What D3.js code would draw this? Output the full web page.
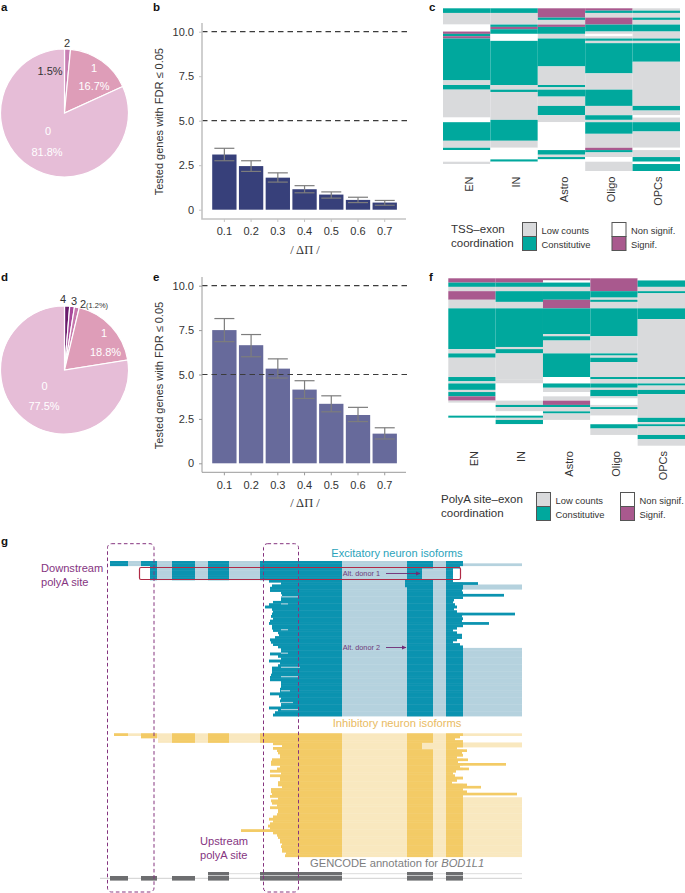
<!DOCTYPE html>
<html lang="en">
<head>
<meta charset="utf-8">
<title>Isoform coordination</title>
<script src="https://d3js.org/d3.v7.min.js"></script>
<style>
  body { margin: 0; background: #fff; }
  svg { display: block; }
  text { font-family: "Liberation Sans", Arial, sans-serif; }
  .panel { font-weight: 700; font-size: 11.5px; fill: #111; }
</style>
</head>
<body>
<div id="chart"></div>
<script>
// pies (clockwise from 12 o'clock)
var pieAValues = [1.5, 16.7, 81.8]
var pieDValues = [1.3, 1.2, 1.2, 18.8, 77.5]

// bars
var deltaPi = ["0.1", "0.2", "0.3", "0.4", "0.5", "0.6", "0.7"]
var barB = [3.1, 2.45, 1.8, 1.15, 0.85, 0.55, 0.4]
var barBHigh = [3.45, 2.75, 2.07, 1.35, 1.0, 0.7, 0.52]
var barBLow = [2.75, 2.15, 1.55, 0.95, 0.65, 0.4, 0.25]
var barE = [7.5, 6.65, 5.33, 4.15, 3.35, 2.72, 1.67]
var barEHigh = [8.15, 7.25, 5.88, 4.65, 3.8, 3.15, 2.0]
var barELow = [6.85, 6.0, 4.8, 3.65, 2.9, 2.35, 1.37]
var yTicks = [0, 2.5, 5, 7.5, 10]

// heatmaps: [state, row where the run ends]
// C constitutive, L low counts, N non signif, S signif
var cellTypes = ["EN", "IN", "Astro", "Oligo", "OPCs"]
var heatCRows = 70
var heatCEN = [["C",2],["L",7],["N",10],["S",11],["C",12],["S",13],["C",31],["L",33],["C",35],["L",47],["N",49],["C",57],["L",60],["C",61],["N",66],["L",67],["N",70]]
var heatCIN = [["C",2],["L",7],["C",8],["S",9],["C",11],["N",14],["C",33],["L",35],["C",36],["L",48],["C",57],["L",60],["N",65],["C",66],["N",70]]
var heatCAstro = [["S",4],["C",5],["L",7],["S",8],["C",11],["L",13],["C",25],["L",33],["C",34],["L",35],["C",38],["L",42],["C",46],["L",49],["N",61],["C",63],["L",64],["C",65],["N",70]]
var heatCOligo = [["S",1],["C",2],["L",4],["S",7],["C",10],["L",11],["N",12],["L",13],["C",14],["L",15],["C",28],["L",35],["C",42],["L",46],["C",48],["L",49],["C",54],["L",60],["S",61],["C",62],["L",64],["N",66],["L",70]]
var heatCOPCs = [["L",1],["C",2],["L",4],["C",5],["L",7],["C",10],["L",13],["C",14],["L",15],["C",23],["L",42],["C",44],["L",46],["N",47],["L",49],["C",53],["L",60],["N",61],["L",64],["C",66],["N",67],["C",70]]

var heatFRows = 78
var heatFEN = [["S",2],["C",4],["L",6],["S",10],["L",14],["C",33],["L",35],["C",37],["L",46],["C",48],["L",49],["C",52],["L",53],["C",55],["S",57],["L",58],["N",64],["C",65],["N",78]]
var heatFIN = [["S",2],["C",4],["L",6],["C",11],["L",14],["C",32],["L",33],["C",35],["L",47],["L",49],["N",57],["L",59],["C",60],["L",62],["N",64],["C",65],["L",66],["C",68],["N",78]]
var heatFAstro = [["S",1],["N",2],["C",4],["L",6],["C",10],["S",14],["C",26],["L",27],["C",29],["L",35],["C",46],["N",49],["C",51],["L",53],["N",55],["L",57],["S",59],["C",60],["L",62],["C",63],["L",66],["N",78]]
var heatFOligo = [["S",6],["C",9],["L",10],["C",11],["L",14],["C",27],["L",35],["C",36],["L",37],["C",39],["L",46],["C",47],["L",49],["C",51],["L",52],["C",55],["L",56],["N",59],["L",60],["C",61],["L",64],["N",68],["C",70],["L",73],["N",78]]
var heatFOPCs = [["N",1],["C",4],["L",6],["C",7],["L",14],["C",19],["L",46],["C",47],["L",49],["C",50],["L",52],["C",54],["L",65],["C",67],["L",68],["C",69],["L",73],["C",75],["L",78]]

// gene model, position along the locus
var exons = [[0,18],[31,47],[62,85],[98,119],[150,232],[297,323],[336,353]]
var gencodeMain = [[0,18],[31,47],[62,85],[98,119],[150,232],[297,323],[336,353]]
var gencodeAlt = [[98,119],[150,232],[297,323],[336,353]]

// excitatory isoforms, top to bottom
var excStart = [0,0,40,40,40,40,40,40,
  159,171,162,160,160,171,172,171,171,163,159,155,162,163,162,161,163,160,159,162,162,163,168,169,165,160,161,163,168,171,171,160,168,171,159,170,168,162,162,162,161,160,160,171,171,171,170,170,160,169,171,170,171,171,159,168,165,163]
var excEnd = [353,412,350,343,343,343,343,343,
  343,368,412,412,352,353,394,353,344,343,345,347,344,347,405,352,353,352,379,353,347,343,347,352,352,347,343,350,353,
  412,412,412,412,412,412,412,412,412,412,412,412,412,412,412,412,412,412,412,412,412,412,412,412,412,412,412,412,412,412]
var excPaleRows = [15,18,29,39,45,49,55,60,63]
var excPaleEnd = [188,178,178,178,190,188,180,183,188]
var excDonor1Rows = [3,4,5,6,7]
var excDonor2Rows = [8,9,10]

// inhibitory isoforms, top to bottom
var inhStart = [4,31,48,48,
  163,172,163,167,168,170,170,162,161,161,170,167,160,171,160,170,170,168,168,172,161,161,162,160,168,161,162,167,160,168,168,167,163,159,163,160,158,160,131,163,167,168,170,170,172,171,172,172,176,175]
var inhEnd = [412,350,345,353,
  412,412,347,357,352,353,347,358,348,396,350,359,346,343,345,353,347,342,357,371,353,357,407,353,
  412,412,412,412,412,412,412,412,412,412,412,412,412,412,412,412,412,412,412,412,412,412,412,412,412,412]
var inhDonorRows = [4,5,6]

var colors = { C: "#00a89d", L: "#d9dadc", N: "#ffffff", S: "#a9598e" }
var purple = "#85347f"

var svg = d3.select("#chart").append("svg").attr("width", 685).attr("height", 893)

function label(txt, x, y, size, fill, anchor) {
  return svg.append("text").attr("x", x).attr("y", y)
    .attr("font-size", size).attr("fill", fill || "#333")
    .attr("text-anchor", anchor || "start").text(txt)
}

// panel letters
;[["a",1,10.5],["b",153,10.5],["c",429,10.5],["d",1,281],["e",153,281],["f",429,280.5],["g",1,545]].forEach(function(p) {
  svg.append("text").attr("class", "panel").attr("x", p[1]).attr("y", p[2]).text(p[0])
})

// ---- pies
function drawPie(values, cx, cy, r, fills) {
  var arcs = d3.pie().sort(null)(values)
  var arc = d3.arc().innerRadius(0).outerRadius(r)
  svg.append("g").attr("transform", "translate(" + cx + "," + cy + ")")
    .selectAll("path").data(arcs).enter().append("path")
      .attr("d", arc)
      .attr("fill", function(d, i) { return fills[i] })
      .attr("stroke", "white").attr("stroke-width", 1.2)
}
drawPie(pieAValues, 64.5, 113, 64, ["#c87fb3", "#de9db8", "#e6bdd7"])
drawPie(pieDValues, 64.5, 370, 64, ["#6a1c6c", "#a8489a", "#c778ad", "#de9db8", "#e6bdd7"])

label("2", 67, 47, 11, "#333", "middle")
label("1.5%", 50, 75, 11, "#333", "middle")
label("1", 94, 72, 11, "#fff", "middle")
label("16.7%", 94, 90, 11, "#fff", "middle")
label("0", 48, 135, 11, "#fff", "middle")
label("81.8%", 47, 156, 11, "#fff", "middle")

label("4", 63, 303, 11, "#333", "middle")
label("3", 74, 305, 11, "#333", "middle")
label("2", 83, 308, 11, "#333", "middle")
label("(1.2%)", 86, 308, 7.5, "#333")
label("1", 104, 337, 11, "#fff", "middle")
label("18.8%", 105.5, 356, 11, "#fff", "middle")
label("0", 44.5, 390, 11, "#fff", "middle")
label("77.5%", 44, 410, 11, "#fff", "middle")

// ---- bars
function drawBars(vals, low, high, opt) {
  var y = d3.scaleLinear().domain([0, 10]).range([opt.y0, opt.y10])
  var x = d3.scaleBand().domain(deltaPi).range([209.8, 399.3]).padding(0.09)
  var g = svg.append("g")

  g.selectAll("rect.bar").data(vals).enter().append("rect")
    .attr("class", "bar")
    .attr("x", function(d, i) { return x(deltaPi[i]) })
    .attr("width", x.bandwidth())
    .attr("y", function(d) { return y(d) })
    .attr("height", function(d) { return y(0) - y(d) })
    .attr("fill", opt.fill)

  // dashed reference lines
  g.selectAll("line.ref").data([5, 10]).enter().append("line")
    .attr("x1", 202).attr("x2", 408)
    .attr("y1", function(d) { return y(d) }).attr("y2", function(d) { return y(d) })
    .attr("stroke", "#3c3c3c").attr("stroke-width", 1.2).attr("stroke-dasharray", "5.5 4")

  // error bars
  var errs = g.selectAll("g.err").data(vals).enter().append("g")
    .attr("stroke", "#7d7d7d").attr("stroke-width", 1.2)
    .attr("transform", function(d, i) { return "translate(" + (x(deltaPi[i]) + x.bandwidth() / 2) + ",0)" })
  errs.append("line").attr("y1", function(d, i) { return y(low[i]) }).attr("y2", function(d, i) { return y(high[i]) })
  errs.append("line").attr("x1", -10).attr("x2", 10).attr("y1", function(d, i) { return y(low[i]) }).attr("y2", function(d, i) { return y(low[i]) })
  errs.append("line").attr("x1", -10).attr("x2", 10).attr("y1", function(d, i) { return y(high[i]) }).attr("y2", function(d, i) { return y(high[i]) })

  var yAxis = g.append("g").attr("transform", "translate(202,0)")
    .call(d3.axisLeft(y).tickValues(yTicks).tickSize(3).tickPadding(5).tickFormat(function(d) { return d === 0 ? "0" : d3.format(".1f")(d) }))
  var xAxis = g.append("g").attr("transform", "translate(0," + opt.axisY + ")")
    .call(d3.axisBottom(x).tickSize(3))
  ;[yAxis, xAxis].forEach(function(a) {
    a.selectAll("path").remove()
    a.selectAll("line").attr("stroke", opt.axisColor)
    a.selectAll("text").attr("font-size", 11).attr("fill", "#333").attr("font-family", '"Liberation Sans", Arial, sans-serif')
  })
  xAxis.selectAll("text").attr("dy", "0.95em")

  g.append("path")
    .attr("d", "M202," + opt.axisTop + "V" + opt.axisY + "H406")
    .attr("fill", "none").attr("stroke", opt.axisColor).attr("stroke-width", opt.axisWidth)

  var midY = (opt.y0 + opt.y10) / 2 + 1
  svg.append("text").attr("transform", "translate(163," + midY + ") rotate(-90)")
    .attr("text-anchor", "middle").attr("font-size", 11).attr("fill", "#333")
    .text("Tested genes with FDR \u2264 0.05")
  svg.append("text").attr("x", 305).attr("y", opt.axisY + 34.5)
    .attr("text-anchor", "middle").attr("font-size", 12.5).attr("fill", "#333")
    .attr("style", 'font-family:"Liberation Serif",serif').text("/ \u0394\u03a0 /")
}
drawBars(barB, barBLow, barBHigh, { y0: 209.7, y10: 31.7, axisY: 219, axisTop: 23, fill: "#37407a", axisColor: "#c4c4c4", axisWidth: 1.6 })
drawBars(barE, barELow, barEHigh, { y0: 463.3, y10: 285.7, axisY: 472.3, axisTop: 277, fill: "#676a9b", axisColor: "#9a9a9a", axisWidth: 1 })

// ---- heatmaps
function drawHeat(columns, rows, x0, x1, y0, y1, labelTop) {
  var x = d3.scaleBand().domain(cellTypes).range([x0, x1])
  var y = d3.scaleLinear().domain([0, rows]).range([y0, y1])
  columns.forEach(function(col, i) {
    var prev = 0
    var runs = col.map(function(r) {
      var run = { state: r[0], from: prev, to: r[1] }
      prev = r[1]
      return run
    })
    svg.append("g").selectAll("rect").data(runs).enter().append("rect")
      .attr("x", x(cellTypes[i]))
      .attr("width", x.bandwidth())
      .attr("y", function(d) { return y(d.from) })
      .attr("height", function(d) { return y(d.to) - y(d.from) })
      .attr("fill", function(d) { return colors[d.state] })
    svg.append("text")
      .attr("transform", "translate(" + (x(cellTypes[i]) + x.bandwidth() / 2 + 6) + "," + labelTop + ") rotate(-90)")
      .attr("text-anchor", "end").attr("font-size", 11).attr("fill", "#333").text(cellTypes[i])
  })
}
drawHeat([heatCEN, heatCIN, heatCAstro, heatCOligo, heatCOPCs], heatCRows, 443, 680, 8.3, 171, 176.5)
drawHeat([heatFEN, heatFIN, heatFAstro, heatFOligo, heatFOPCs], heatFRows, 448.3, 685, 278.3, 445.7, 451)

function drawLegend(title, tx, ty1, ty2, sx1, sx2, sy) {
  label(title[0], tx, ty1, 11.5, "#333")
  label(title[1], tx, ty2, 11.5, "#333")
  var items = [[sx1, 0, "L", "Low counts"], [sx1, 1, "C", "Constitutive"], [sx2, 0, "N", "Non signif."], [sx2, 1, "S", "Signif."]]
  items.forEach(function(it) {
    svg.append("rect").attr("x", it[0]).attr("y", sy + it[1] * 14).attr("width", 14).attr("height", 14)
      .attr("fill", colors[it[2]]).attr("stroke", "#555").attr("stroke-width", 1)
    label(it[3], it[0] + 19, sy + 11.5 + it[1] * 14, 9.4, "#333")
  })
}
drawLegend(["TSS\u2013exon", "coordination"], 451, 233, 246.5, 522.5, 612, 222.5)
drawLegend(["PolyA site\u2013exon", "coordination"], 441, 503, 516.5, 536.5, 620.5, 492.5)

// ---- isoforms
var locus = d3.scaleLinear().domain([0, 412]).range([110, 522])

function drawIsoforms(starts, ends, y0, y1, dark, light, alt1, alt2) {
  var rowIdx = d3.range(starts.length)
  var y = d3.scaleBand().domain(rowIdx).range([y0, y1])
  // light first so that neighbouring rows never cut into the exons
  var gLight = svg.append("g"), gDark = svg.append("g")
  var h = y.bandwidth() + 0.4

  function seg(g, row, a, b, fill) {
    if (b <= a) return
    g.append("rect").attr("x", locus(a)).attr("width", locus(b) - locus(a))
      .attr("y", y(row)).attr("height", h).attr("fill", fill)
  }

  rowIdx.forEach(function(r) {
    var s = starts[r], e = ends[r]
    seg(gLight, r, s, Math.min(e, 353), light)
    exons.forEach(function(ex, j) {
      var a = Math.max(s, ex[0]), b = Math.min(e, ex[1])
      // alternative donors shift the sixth exon
      if (j === 5 && alt1.indexOf(r) >= 0) b = Math.min(b, 312)
      if (j === 5 && alt2.indexOf(r) >= 0) a = 295
      seg(gDark, r, a, b, dark)
    })
    if (e > 353) {
      if (e === 412) seg(gLight, r, 353, e, light)
      else seg(gDark, r, 353, e, dark)
    }
    if (s > 100 && s < 150) seg(gDark, r, s, 150, dark)
  })
  return { g: gDark, y: y, h: h }
}

var exc = drawIsoforms(excStart, excEnd, 561, 716, "#0b93b0", "#b5d2de", excDonor1Rows, excDonor2Rows)
excPaleRows.forEach(function(r, i) {
  var s = Math.max(excStart[r], 171)
  exc.g.append("rect").attr("x", locus(s)).attr("width", locus(excPaleEnd[i]) - locus(s))
    .attr("y", exc.y(r)).attr("height", 1.2).attr("fill", "#a9d0dc")
})
drawIsoforms(inhStart, inhEnd, 733.3, 856.7, "#f3cb66", "#f9e8bf", inhDonorRows, [])

// gencode tracks
svg.append("line").attr("x1", locus(-10)).attr("x2", locus(412)).attr("y1", 878.3).attr("y2", 878.3).attr("stroke", "#cfcfcf")
svg.append("line").attr("x1", locus(98)).attr("x2", locus(412)).attr("y1", 873.7).attr("y2", 873.7).attr("stroke", "#dcdcdc")
svg.append("g").selectAll("rect").data(gencodeMain).enter().append("rect")
  .attr("x", function(d) { return locus(d[0]) })
  .attr("width", function(d) { return locus(d[1]) - locus(d[0]) })
  .attr("y", 876).attr("height", 4.6).attr("fill", "#6d6e70")
svg.append("g").selectAll("rect").data(gencodeAlt).enter().append("rect")
  .attr("x", function(d) { return locus(d[0]) })
  .attr("width", function(d) { return locus(d[1]) - locus(d[0]) })
  .attr("y", 872).attr("height", 3.4).attr("fill", "#6d6e70")

// red box around alt. donor 1
svg.append("rect").attr("x", 139.5).attr("y", 567.5).attr("width", 321).attr("height", 12).attr("rx", 1.5)
  .attr("fill", "none").attr("stroke", "#b02a45").attr("stroke-width", 1.2)

// dashed polyA windows
;[[107.5, 154], [263.5, 298.5]].forEach(function(b) {
  svg.append("rect").attr("x", b[0]).attr("y", 543.7).attr("width", b[1] - b[0]).attr("height", 348.3).attr("rx", 4)
    .attr("fill", "none").attr("stroke", purple).attr("stroke-width", 1).attr("stroke-dasharray", "3.6 2.6")
})

// arrows
svg.append("defs").append("marker").attr("id", "tip").attr("markerWidth", 6).attr("markerHeight", 6)
  .attr("refX", 5).attr("refY", 2.5).attr("orient", "auto")
  .append("path").attr("d", "M0,0L5.5,2.5L0,5z").attr("fill", "#6f2a74")
;[[386, 420, 573.5], [386, 406, 647.5]].forEach(function(a) {
  svg.append("line").attr("x1", a[0]).attr("x2", a[1]).attr("y1", a[2]).attr("y2", a[2])
    .attr("stroke", "#6f2a74").attr("stroke-width", 0.9).attr("marker-end", "url(#tip)")
})

label("Alt. donor 1", 342.7, 576, 7.3, "#6f3a78")
label("Alt. donor 2", 342.7, 650, 7.3, "#6f3a78")
label("Excitatory neuron isoforms", 397, 557, 11.1, "#2aa3bb", "middle")
label("Inhibitory neuron isoforms", 397, 727, 11.2, "#e9bb62", "middle")
label("Downstream", 41, 572, 11.1, purple)
label("polyA site", 41, 585.5, 11.1, purple)
label("Upstream", 200, 845, 11.1, purple)
label("polyA site", 200, 859, 11.1, purple)
var gen = label("GENCODE annotation for ", 310, 867, 11.2, "#7d7e80")
gen.append("tspan").attr("font-style", "italic").text("BOD1L1")
</script>
</body>
</html>
